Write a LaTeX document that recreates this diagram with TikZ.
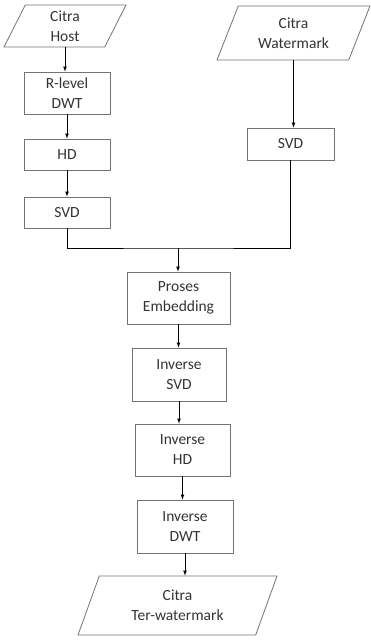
\documentclass[tikz,border=0pt]{standalone}
\usepackage{fontspec}
\setmainfont{Carlito}
\usepackage{tikz}
\usetikzlibrary{arrows,calc,positioning,shapes.geometric}
\definecolor{lgray}{rgb}{0.45 0.45 0.45}
\definecolor{tgray}{rgb}{0.2 0.2 0.2}

\tikzset{
  iobox/.style={trapezium, trapezium left angle=57, trapezium right angle=123,
    trapezium stretches body, draw=lgray, line width=0.8pt, inner sep=1pt, align=center},
  procbox/.style={rectangle, draw=lgray, line width=0.8pt, inner sep=1pt, align=center},
  flow/.style={->, >=latex, line width=0.7pt}
}

\begin{document}
\begin{tikzpicture}[x=1pt,y=-1pt,every node/.style={font=\fontsize{15.5}{20}\selectfont,text=tgray}]  %[1px = 1pt]
\useasboundingbox (0,0) rectangle (371,640);

% inputs
\node[iobox,minimum width=122,minimum height=42] (host) at (65,26) {Citra\\Host};
\node[iobox,minimum width=153,minimum height=54] (wmark) at (293.5,33) {Citra\\Watermark};

% host branch
\node[procbox,minimum width=86,minimum height=42] (rdwt) at (67,93) {R-level\\DWT};
\node[procbox,minimum width=86,minimum height=31] (hd) at (67,154.5) {HD};
\node[procbox,minimum width=86,minimum height=31] (svdh) at (67,212.5) {SVD};

% watermark branch
\node[procbox,minimum width=87,minimum height=32] (svdw) at (290.5,144) {SVD};

% embedding and inverse steps
\node[procbox,minimum width=103,minimum height=52] (emb) at (178.5,298) {Proses\\Embedding};
\node[procbox,minimum width=94,minimum height=53] (isvd) at (179,374.5) {Inverse\\SVD};
\node[procbox,minimum width=95,minimum height=52] (ihd) at (182.5,450) {Inverse\\HD};
\node[procbox,minimum width=96,minimum height=53] (idwt) at (185,526.5) {Inverse\\DWT};

% output
\node[iobox,minimum width=199,minimum height=59] (out) at (177.5,605.5) {Citra\\Ter-watermark};

\coordinate (merge) at (178,248);

% connectors
\draw[flow] (host.south) -- (host.south |- rdwt.north);
\draw[flow] (rdwt) -- (hd);
\draw[flow] (hd) -- (svdh);
\draw[flow] (wmark.south) -- (wmark.south |- svdw.north);
\draw[line width=0.7pt] (svdh.south) |- (merge) -| (svdw.south);
\draw[flow] (merge) -- (merge |- emb.north);
\draw[flow] (emb.south) -- (emb.south |- isvd.north);
\draw[flow] (isvd.south) -- (isvd.south |- ihd.north);
\draw[flow] (ihd.south) -- (ihd.south |- idwt.north);
\draw[flow] (idwt.south) -- (idwt.south |- out.north);
\end{tikzpicture}
\end{document}
